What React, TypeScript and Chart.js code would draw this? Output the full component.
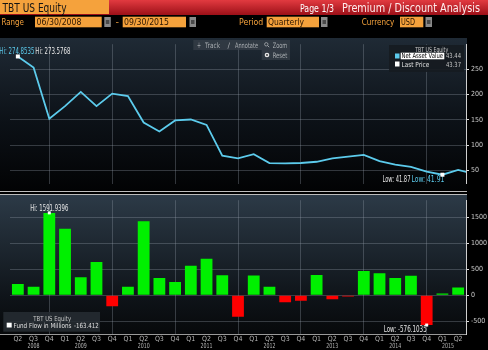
import React, { useEffect, useRef } from "react";
import { Chart, registerables } from "chart.js";
Chart.register(...registerables);

// ---------- data ----------
const quarterLabels = [
  "Q2", "Q3", "Q4",
  "Q1", "Q2", "Q3", "Q4",
  "Q1", "Q2", "Q3", "Q4",
  "Q1", "Q2", "Q3", "Q4",
  "Q1", "Q2", "Q3", "Q4",
  "Q1", "Q2", "Q3", "Q4",
  "Q1", "Q2", "Q3", "Q4",
  "Q1", "Q2",
];
const yearLabels = ["2008", "2009", "2010", "2011", "2012", "2013", "2014", "2015"];
const yearLabelAt = [1, 4, 8, 12, 16, 20, 24, 27.35];

// Net Asset Value, quarter ends 06/30/2008 .. 09/30/2015
const navValues = [
  274.8535, 253, 152, 177, 205, 177, 201.7, 196.8, 144.6, 127,
  148.9, 150.7, 140, 79.3, 74.3, 82.3, 64.9, 64.3, 65, 67.4,
  74, 77.4, 81, 68.7, 61.8, 57.5, 48, 41.91, 51.3, 43.44,
];
const navHiLo = ["274.8535", "41.91"];
const lastPriceHiLo = ["273.5768", "41.87"];

// Fund flow in millions, per quarter Q2 2008 .. Q2 2015
const fundFlowValues = [
  219, 163, 1591.9396, 1287, 350, 644, -212, 163, 1431, 332,
  257, 569, 706, 388, -418, 382, 163, -137, -105, 393,
  -75, -24, 468, 425, 332, 375, -576.1035, 32, 150,
];

const topTickValues = [50, 100, 150, 200, 250];
const botTickValues = [-500, 0, 500, 1000, 1500];

// ---------- styles ----------
const FONT = "'Liberation Sans Narrow','DejaVu Sans Condensed','Liberation Sans',sans-serif";
const CYAN = "#5ccbec";
const GRID = "rgba(150,160,172,0.32)";
const AXIS = "#cfcfcf";
const ORANGE = "#f5a23c";

const isQ4 = (i: number) => quarterLabels[i] === "Q4";
const argMax = (a: number[]) => a.reduce((b, v, i) => (v > a[b] ? i : b), 0);
const argMin = (a: number[]) => a.reduce((b, v, i) => (v < a[b] ? i : b), 0);

const topMarks = {
  id: "topMarks",
  afterDatasetsDraw(chart: any) {
    const meta = chart.getDatasetMeta(0);
    const ctx = chart.ctx;
    const hi = meta.data[argMax(navValues)];
    const lo = meta.data[argMin(navValues)];
    ctx.save();
    ctx.font = `8px ${FONT}`;
    ctx.textBaseline = "middle";
    ctx.fillStyle = CYAN;
    ctx.textAlign = "right";
    ctx.fillText(`Hi: ${navHiLo[0]}`, hi.x + 16.5, hi.y - 5, 35);
    ctx.fillStyle = "#e6e6e6";
    ctx.textAlign = "left";
    ctx.fillText(`Hi: ${lastPriceHiLo[0]}`, hi.x + 17.5, hi.y - 5, 35);
    ctx.fillStyle = CYAN;
    ctx.textAlign = "right";
    ctx.fillText(`Low: ${navHiLo[1]}`, lo.x + 2, lo.y + 5, 33);
    ctx.fillStyle = "#e6e6e6";
    ctx.fillText(`Low: ${lastPriceHiLo[1]}`, lo.x - 32, lo.y + 5, 28);
    ctx.fillStyle = "#ffffff";
    ctx.fillRect(hi.x - 2, hi.y - 2, 4, 4);
    ctx.fillRect(lo.x - 2, lo.y - 2, 4, 4);
    ctx.restore();
  },
};

const botMarks = {
  id: "botMarks",
  afterDraw(chart: any) {
    const ctx = chart.ctx;
    const xs = chart.scales.x;
    const meta = chart.getDatasetMeta(0);
    ctx.save();
    ctx.font = `7px ${FONT}`;
    ctx.fillStyle = "#b4b4b4";
    ctx.textAlign = "center";
    ctx.textBaseline = "middle";
    yearLabels.forEach((y, i) =>
      ctx.fillText(y, xs.getPixelForValue(yearLabelAt[i]), chart.chartArea.bottom + 12, 12)
    );
    const hi = meta.data[argMax(fundFlowValues)];
    const lo = meta.data[argMin(fundFlowValues)];
    ctx.font = `8px ${FONT}`;
    ctx.fillStyle = "#e6e6e6";
    ctx.textAlign = "center";
    ctx.fillText(`Hi: ${fundFlowValues[argMax(fundFlowValues)].toFixed(4)}`, hi.x, hi.y - 4, 38);
    ctx.textAlign = "right";
    ctx.fillText(`Low: ${fundFlowValues[argMin(fundFlowValues)].toFixed(4)}`, lo.x, lo.y + 5, 43);
    ctx.fillStyle = "#ffffff";
    ctx.fillRect(hi.x - 1.5, hi.y - 1.5, 3, 3);
    ctx.fillRect(lo.x - 1.5, lo.y - 1.5, 3, 3);
    ctx.restore();
  },
};

const yAxis = (min: number, max: number, tickValues: number[]) => ({
  position: "right",
  min,
  max,
  afterFit: (s: any) => {
    s.width = 22;
  },
  afterBuildTicks: (s: any) => {
    s.ticks = tickValues.map((v) => ({ value: v }));
  },
  ticks: {
    color: "#cccccc",
    font: { family: FONT, size: 7 },
    padding: 2,
    callback: (v: any) => String(v),
  },
  grid: { color: GRID, tickColor: "#dddddd", tickLength: 3, drawTicks: true },
  border: { display: true, color: AXIS, width: 1 },
});

const xGrid = {
  offset: false,
  drawTicks: false,
  color: (c: any) => (isQ4(c.index) ? GRID : "rgba(0,0,0,0)"),
  lineWidth: 1,
};

export default function App() {
  const topRef = useRef<HTMLCanvasElement>(null);
  const botRef = useRef<HTMLCanvasElement>(null);

  useEffect(() => {
    const top = new Chart(topRef.current as HTMLCanvasElement, {
      type: "line",
      data: {
        labels: quarterLabels,
        datasets: [
          {
            data: navValues.map((v, i) => ({ x: i, y: v })),
            xAxisID: "x2",
            yAxisID: "y",
            borderColor: CYAN,
            borderWidth: 1.8,
            pointRadius: 0,
            tension: 0,
          },
        ],
      },
      options: {
        responsive: false,
        animation: false,
        events: [],
        layout: { padding: { left: 10, top: 2, bottom: 2, right: 0 } },
        plugins: { legend: { display: false }, tooltip: { enabled: false } },
        scales: {
          x: {
            type: "category",
            offset: true,
            grid: xGrid,
            ticks: { display: false },
            border: { display: false },
          },
          x2: { type: "linear", display: false, min: -0.5, max: 28.5 },
          y: yAxis(24, 299, topTickValues),
        },
      } as any,
      plugins: [topMarks],
    } as any);

    const bot = new Chart(botRef.current as HTMLCanvasElement, {
      type: "bar",
      data: {
        labels: quarterLabels,
        datasets: [
          {
            data: fundFlowValues,
            backgroundColor: fundFlowValues.map((v) => (v >= 0 ? "#00f000" : "#ff0000")),
            barPercentage: 0.75,
            categoryPercentage: 1,
            borderWidth: 0,
          },
        ],
      },
      options: {
        responsive: false,
        animation: false,
        events: [],
        layout: { padding: { left: 10, top: 2, bottom: 0, right: 0 } },
        plugins: { legend: { display: false }, tooltip: { enabled: false } },
        scales: {
          x: {
            grid: xGrid,
            ticks: {
              color: "#b4b4b4",
              font: { family: FONT, size: 7 },
              padding: 1,
              autoSkip: false,
              maxRotation: 0,
            },
            border: { display: false },
            afterFit: (s: any) => {
              s.height = 16;
            },
          },
          y: yAxis(-749, 1837, botTickValues),
        },
      } as any,
      plugins: [botMarks],
    } as any);

    return () => {
      top.destroy();
      bot.destroy();
    };
  }, []);

  const txt = (
    x: number,
    y: number,
    s: string,
    w: number,
    size: number,
    fill: string,
    anchor: string = "start"
  ) => (
    <text
      x={x}
      y={y}
      fontSize={size}
      fill={fill}
      textLength={w}
      lengthAdjust="spacingAndGlyphs"
      textAnchor={anchor}
      fontFamily={FONT}
    >
      {s}
    </text>
  );

  const button = (x: number) => (
    <g>
      <rect x={x} y={17} width={6.5} height={10} fill="#8a8a8a" />
      <rect x={x + 1.5} y={20} width={3.5} height={4} fill="#4a4a4a" />
    </g>
  );

  return (
    <div
      style={{
        position: "absolute",
        left: 0,
        top: 0,
        width: 488,
        height: 350,
        overflow: "hidden",
        background: "#000",
      }}
    >
      <svg width={488} height={350} style={{ position: "absolute", left: 0, top: 0 }}>
        <defs>
          <linearGradient id="gTop" x1="0" y1="0" x2="0" y2="1">
            <stop offset="0" stopColor="#1f2a35" />
            <stop offset="0.55" stopColor="#0c1117" />
            <stop offset="1" stopColor="#020304" />
          </linearGradient>
          <linearGradient id="gBot" x1="0" y1="0" x2="0" y2="1">
            <stop offset="0" stopColor="#2c3a47" />
            <stop offset="0.75" stopColor="#0e1318" />
            <stop offset="1" stopColor="#07090b" />
          </linearGradient>
        </defs>
        <rect x={0} y={0} width={488} height={350} fill="#000" />
        <rect x={0} y={38} width={467} height={152} fill="url(#gTop)" />
        <rect x={0} y={195} width={467} height={139} fill="url(#gBot)" />
        <rect x={0} y={191} width={467} height={1} fill="#bcbcbc" />
        <rect x={0} y={194} width={467} height={1} fill="#bcbcbc" />
        <rect x={0} y={334} width={467} height={1} fill="#9a9a9a" />
      </svg>

      <canvas
        ref={topRef}
        width={488}
        height={152}
        style={{ position: "absolute", left: 0, top: 38 }}
      />
      <canvas
        ref={botRef}
        width={488}
        height={156}
        style={{ position: "absolute", left: 0, top: 194 }}
      />

      <svg
        width={488}
        height={350}
        style={{ position: "absolute", left: 0, top: 0, pointerEvents: "none" }}
      >
        <defs>
          <linearGradient id="gRed" x1="0" y1="0" x2="0" y2="1">
            <stop offset="0" stopColor="#e23a40" />
            <stop offset="1" stopColor="#9c1018" />
          </linearGradient>
        </defs>
        {/* header row 1 */}
        <rect x={0} y={0} width={488} height={15} fill="url(#gRed)" />
        <rect x={0} y={0} width={109} height={14} fill={ORANGE} />
        {txt(2.5, 11.8, "TBT US Equity", 64, 12.5, "#141414")}
        {txt(300, 11.5, "Page 1/3", 34, 10, "#ffffff")}
        {txt(342, 12, "Premium / Discount Analysis", 138, 12.5, "#ffecec")}
        {/* header row 2 */}
        {txt(1.5, 25.3, "Range", 22.5, 9.5, ORANGE)}
        <rect x={35} y={16.7} width={66.7} height={10.6} fill={ORANGE} />
        {txt(36.5, 25.3, "06/30/2008", 45, 9.5, "#2a1500")}
        {button(104.3)}
        {txt(115.5, 25, "-", 3.5, 9.5, ORANGE)}
        <rect x={122.7} y={16.7} width={63.3} height={10.6} fill={ORANGE} />
        {txt(124, 25.3, "09/30/2015", 45, 9.5, "#2a1500")}
        {button(189.5)}
        {txt(239, 25.3, "Period", 24.3, 9.5, ORANGE)}
        <rect x={266.7} y={16.7} width={52.3} height={10.6} fill={ORANGE} />
        {txt(268, 25.3, "Quarterly", 36, 9.5, "#2a1500")}
        {button(321)}
        {txt(361.7, 25.3, "Currency", 32.6, 9.5, ORANGE)}
        <rect x={400} y={16.7} width={23.3} height={10.6} fill={ORANGE} />
        {txt(401, 25.3, "USD", 14, 9.5, "#2a1500")}
        {button(425.5)}

        {/* toolbar */}
        <rect x={193.3} y={40} width={96.7} height={10} fill="rgba(55,63,72,0.75)" />
        <rect x={261.7} y={50} width={28.3} height={10} fill="rgba(55,63,72,0.75)" />
        {txt(197, 47.8, "+", 4, 8, "#a8acb0")}
        {txt(205, 47.8, "Track", 15, 7.5, "#a8acb0")}
        {txt(227.5, 47.8, "/", 2.5, 7.5, "#a8acb0")}
        {txt(235, 47.8, "Annotate", 23, 7.5, "#a8acb0")}
        <circle cx={266.3} cy={44.3} r={1.7} fill="none" stroke="#a8acb0" strokeWidth={0.8} />
        <line x1={267.5} y1={45.5} x2={269.2} y2={47.2} stroke="#a8acb0" strokeWidth={0.9} />
        {txt(272.7, 47.8, "Zoom", 14.6, 7.5, "#a8acb0")}
        <circle cx={267} cy={55} r={2.3} fill="#e8e8e8" />
        <circle cx={267} cy={55} r={0.9} fill="#333" />
        {txt(272.7, 57.8, "Reset", 14.6, 7.5, "#a8acb0")}

        {/* top legend */}
        <rect x={389} y={45} width={75} height={27} fill="rgba(22,27,33,0.92)" />
        {txt(431.7, 51.8, "TBT US Equity", 33, 7, "#c8c8c8", "middle")}
        <rect x={395} y={53.5} width={4.5} height={5} fill={CYAN} />
        <rect x={400.7} y={52.7} width={43.6} height={6.6} fill="#ffffff" />
        {txt(401.5, 58.4, "Net Asset Value", 41.5, 7, "#000000")}
        {txt(446, 58.4, "43.44", 15, 7, "#c8c8c8")}
        <rect x={395} y={61.5} width={4.5} height={5} fill="#ffffff" />
        {txt(401.5, 66.5, "Last Price", 27.8, 7, "#e0e0e0")}
        {txt(446, 66.5, "43.37", 15, 7, "#c8c8c8")}

        {/* bottom legend */}
        <rect x={3.3} y={312} width={96.7} height={19.7} fill="rgba(38,44,50,0.88)" />
        {txt(52.2, 320.5, "TBT US Equity", 37.7, 7, "#c8c8c8", "middle")}
        <rect x={6.7} y={322.7} width={5} height={4.8} fill="#ffffff" />
        {txt(13.5, 328, "Fund Flow in Millions", 58, 7, "#e0e0e0")}
        {txt(74, 328, "-163.412", 24.7, 7, "#e0e0e0")}
      </svg>
    </div>
  );
}
